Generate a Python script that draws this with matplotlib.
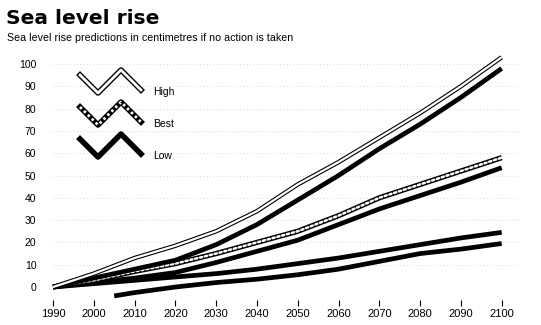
import matplotlib.pyplot as plt
from matplotlib.lines import Line2D

plt.rcParams['font.family'] = ['Liberation Sans', 'DejaVu Sans']

years = [1990, 2000, 2010, 2020, 2030, 2040, 2050, 2060, 2070, 2080, 2090, 2100]

# three scenarios, each drawn as a pair of lines (upper / lower)
high_upper = [0, 6, 13, 18.5, 25, 34, 46, 56, 67, 78, 90, 103]
high_lower = [0, 4, 8, 12, 19, 28, 39, 50, 62, 73, 85, 98]
best_upper = [0, 3, 7, 10.5, 15, 20, 25, 32, 40, 46, 52, 58]
best_lower = [0, 2, 4, 6.5, 11, 16, 21, 28, 35, 41, 47, 53.5]
low_upper = [0, 1.5, 3, 4.5, 6, 8, 10.5, 13, 16, 19, 22, 24.5]
low_lower_years = [2005, 2010, 2020, 2030, 2040, 2050, 2060, 2070, 2080, 2090, 2100]
low_lower = [-4, -2.5, 0, 2, 3.5, 5.5, 8, 11.5, 15, 17, 19.5]

xticks = [1990, 2000, 2010, 2020, 2030, 2040, 2050, 2060, 2070, 2080, 2090, 2100]
yticks = [0, 10, 20, 30, 40, 50, 60, 70, 80, 90, 100]

fig = plt.figure(figsize=(5.41, 3.25), dpi=100)
ax = fig.add_axes([0.098, 0.0757, 0.8595, 0.7686])


def hollow(ax, x, y, **kw):
    ax.plot(x, y, color='black', lw=3.2, solid_capstyle='butt', **kw)
    ax.plot(x, y, color='white', lw=1.6, solid_capstyle='butt', **kw)


def beaded(ax, x, y, **kw):
    ax.plot(x, y, color='black', lw=3.8, solid_capstyle='butt', **kw)
    ax.plot(x, y, color='white', lw=1.8, linestyle=(0, (0.9, 1.1)),
            dash_capstyle='round', **kw)


def solid(ax, x, y, **kw):
    ax.plot(x, y, color='black', lw=3.4, solid_capstyle='butt', **kw)


# faint dotted gridlines
for v in yticks[1:]:
    ax.axhline(v, color='#cccccc', lw=0.6, linestyle=(0, (1, 3)), zorder=0)

solid(ax, low_lower_years, low_lower)
solid(ax, years, low_upper)
solid(ax, years, best_lower)
beaded(ax, years, best_upper)
solid(ax, years, high_lower)
hollow(ax, years, high_upper)

ax.set_xlim(1990, 2104)
ax.set_ylim(-6, 106)
ax.set_xticks(xticks)
ax.set_yticks(yticks)
ax.tick_params(axis='x', length=4, width=0.8, pad=2, labelsize=8)
ax.tick_params(axis='y', length=0, pad=12, labelsize=7.5)
for s in ax.spines.values():
    s.set_visible(False)
for line in ax.get_lines():
    line.set_clip_on(False)

# legend: zigzag swatches in figure pixels
W, H = 541, 325


def zig(y0):
    xs = [80, 98, 121, 141]
    ys = [y0, y0 + 18, y0 - 5, y0 + 15]
    return [x / W for x in xs], [1 - y / H for y in ys]


zx, zy = zig(75)
fig.add_artist(Line2D(zx, zy, color='black', lw=4.0, transform=fig.transFigure))
fig.add_artist(Line2D(zx, zy, color='white', lw=2.0, transform=fig.transFigure))
zx, zy = zig(107)
fig.add_artist(Line2D(zx, zy, color='black', lw=4.0, transform=fig.transFigure))
fig.add_artist(Line2D(zx, zy, color='white', lw=2.0, linestyle=(0, (0.9, 1.1)),
                      transform=fig.transFigure))
zx, zy = zig(139)
fig.add_artist(Line2D(zx, zy, color='black', lw=4.0, transform=fig.transFigure))

for label, y in [('High', 92), ('Best', 124), ('Low', 156)]:
    fig.text(153 / W, 1 - y / H, label, fontsize=7.5, va='center', ha='left')

fig.text(6 / W, 1 - 18 / H, 'Sea level rise', fontsize=14.5, fontweight='heavy',
         family='DejaVu Sans', va='center', ha='left')
fig.text(7 / W, 1 - 38 / H,
         'Sea level rise predictions in centimetres if no action is taken',
         fontsize=7.7, va='center', ha='left')

fig.savefig('out.png', dpi=100)
